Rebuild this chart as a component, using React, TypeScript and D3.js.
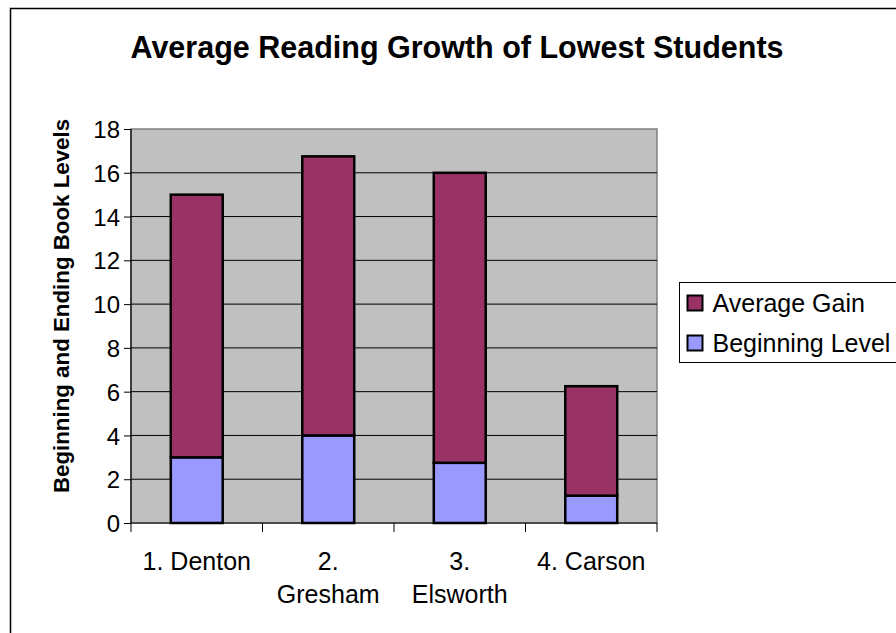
import { useEffect, useRef } from 'react'
import * as d3 from 'd3'

const WIDTH = 896
const HEIGHT = 633
const MARGIN = { top: 129, right: 239, bottom: 110, left: 131 }

const schools = ['1. Denton', '2. Gresham', '3. Elsworth', '4. Carson']
const beginningLevel = [3, 4, 2.75, 1.25]
const averageGain = [12, 12.75, 13.25, 5]
const yTicks = [0, 2, 4, 6, 8, 10, 12, 14, 16, 18]
const seriesNames = ['Average Gain', 'Beginning Level']
const seriesColors = ['#993366', '#9999FF']

const FONT = 'Arial, "Liberation Sans", sans-serif'

export default function App() {
  const axesRef = useRef<SVGGElement>(null)
  const boundsWidth = WIDTH - MARGIN.left - MARGIN.right
  const boundsHeight = HEIGHT - MARGIN.top - MARGIN.bottom

  const xScale = d3
    .scaleBand<string>()
    .domain(schools)
    .range([0, boundsWidth])
    .paddingInner(0.605)
    .paddingOuter(0.3025)

  const yScale = d3.scaleLinear().domain([0, 18]).range([boundsHeight, 0])

  const rows = schools.map((s, i) => ({
    school: s,
    begin: beginningLevel[i],
    gain: averageGain[i],
  }))
  const stacked = d3.stack<any>().keys(['begin', 'gain'])(rows)

  useEffect(() => {
    document.body.style.margin = '0'
    const g = d3.select(axesRef.current)
    g.selectAll('*').remove()

    const yAxis = g.append('g').call(d3.axisLeft(yScale).tickValues(yTicks).tickSize(7).tickPadding(4))
    yAxis.select('.domain').remove()
    yAxis.selectAll('line').attr('stroke', '#000')
    yAxis
      .selectAll('text')
      .style('font-family', FONT)
      .style('font-size', '24px')
      .attr('fill', '#000')
      .attr('dy', '0.36em')

    // x axis ticks at category boundaries
    const step = xScale.step()
    const bounds = d3.range(schools.length + 1).map((i) => i * step)
    g.append('g')
      .selectAll('line')
      .data(bounds)
      .join('line')
      .attr('x1', (d) => d)
      .attr('x2', (d) => d)
      .attr('y1', boundsHeight)
      .attr('y2', boundsHeight + 9)
      .attr('stroke', '#000')

    g.append('line')
      .attr('x1', 0)
      .attr('x2', boundsWidth)
      .attr('y1', boundsHeight)
      .attr('y2', boundsHeight)
      .attr('stroke', '#000')
      .attr('stroke-width', 1.2)
    g.append('line')
      .attr('x1', 0)
      .attr('x2', 0)
      .attr('y1', 0)
      .attr('y2', boundsHeight)
      .attr('stroke', '#000')
      .attr('stroke-width', 1.2)

    // category labels, wrapped like Excel
    const labels = g.append('g').style('font-family', FONT).style('font-size', '25px')
    schools.forEach((s) => {
      const cx = (xScale(s) ?? 0) + xScale.bandwidth() / 2
      const lines = s === '1. Denton' || s === '4. Carson' ? [s] : s.split(' ')
      lines.forEach((line, k) => {
        labels
          .append('text')
          .attr('x', cx)
          .attr('y', boundsHeight + 47 + k * 33)
          .attr('text-anchor', 'middle')
          .attr('fill', '#000')
          .text(line)
      })
    })
  }, [])

  return (
    <svg width={WIDTH} height={HEIGHT} style={{ display: 'block', background: '#fff' }}>
      <rect x={10.5} y={8.5} width={WIDTH + 100} height={HEIGHT + 100} fill="#fff" stroke="#000" strokeWidth={1.5} />
      <text
        x={457}
        y={58}
        textAnchor="middle"
        style={{ fontFamily: FONT, fontSize: '30.5px', fontWeight: 'bold' }}
      >
        Average Reading Growth of Lowest Students
      </text>
      <text
        transform={`translate(69,${MARGIN.top + boundsHeight / 2 - 20}) rotate(-90)`}
        textAnchor="middle"
        style={{ fontFamily: FONT, fontSize: '22.3px', fontWeight: 'bold' }}
      >
        Beginning and Ending Book Levels
      </text>
      <g transform={`translate(${MARGIN.left},${MARGIN.top})`}>
        <rect width={boundsWidth} height={boundsHeight} fill="#C0C0C0" stroke="#808080" strokeWidth={1.5} />
        {yTicks.slice(1, -1).map((t) => (
          <line key={t} x1={0} x2={boundsWidth} y1={yScale(t)} y2={yScale(t)} stroke="#000" strokeWidth={1} />
        ))}
        {stacked.map((layer, li) =>
          layer.map((d, i) => (
            <rect
              key={`${li}-${i}`}
              x={xScale(schools[i])}
              width={xScale.bandwidth()}
              y={yScale(d[1])}
              height={yScale(d[0]) - yScale(d[1])}
              fill={li === 0 ? seriesColors[1] : seriesColors[0]}
              stroke="#000"
              strokeWidth={2.5}
            />
          ))
        )}
        <g ref={axesRef} />
      </g>
      <g transform="translate(679.5,282.5)">
        <rect width={400} height={80} fill="#fff" stroke="#000" strokeWidth={1} />
        {seriesNames.map((name, i) => (
          <g key={name} transform={`translate(0,${13 + i * 40})`}>
            <rect x={8} y={0} width={15} height={15} fill={seriesColors[i]} stroke="#000" strokeWidth={2} />
            <text x={33} y={16} style={{ fontFamily: FONT, fontSize: '25px' }}>
              {name}
            </text>
          </g>
        ))}
      </g>
    </svg>
  )
}
